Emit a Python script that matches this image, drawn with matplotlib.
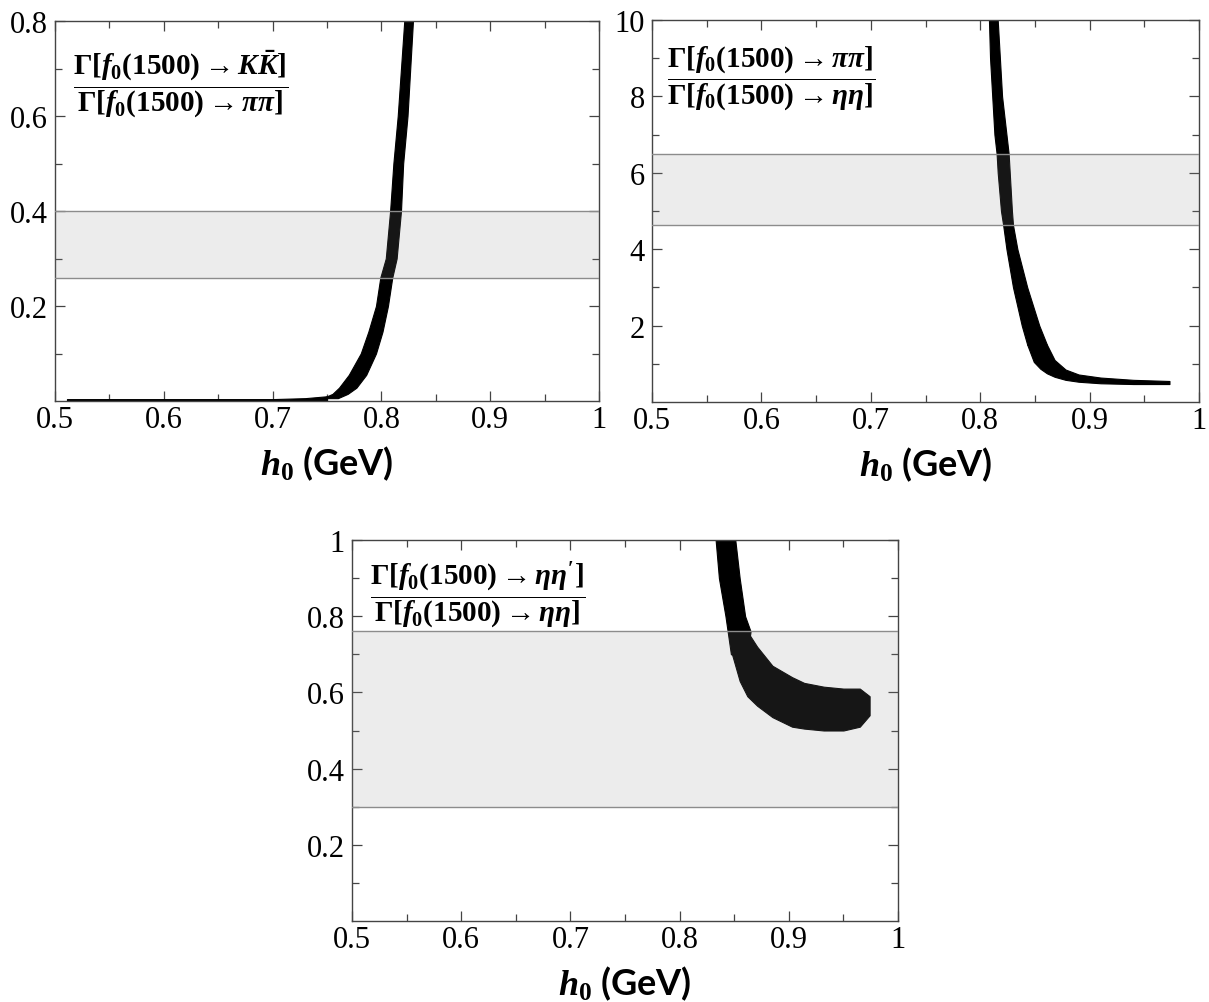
import numpy as np
import matplotlib
matplotlib.use('Agg')
import matplotlib.pyplot as plt

plt.rcParams['font.family'] = 'Liberation Serif'
plt.rcParams['mathtext.fontset'] = 'custom'
plt.rcParams['mathtext.rm'] = 'Liberation Serif:bold'
plt.rcParams['mathtext.it'] = 'Liberation Serif:italic:bold'
plt.rcParams['mathtext.bf'] = 'Liberation Serif:bold'

# x axis (h0 in GeV), shared by all panels
x_ticks = [0.5, 0.6, 0.7, 0.8, 0.9, 1.0]
x_ticklabels = ['0.5', '0.6', '0.7', '0.8', '0.9', '1']

# panel 1: K Kbar / pi pi -- flat tail (x, y_low, y_high) and steep part (y, x_low, x_high)
kk_tail_x = [0.511, 0.700, 0.730, 0.750]
kk_tail_lo = [0.0, 0.0, 0.0, 0.0]
kk_tail_hi = [0.004, 0.004, 0.006, 0.010]
kk_y = [0.006, 0.015, 0.028, 0.055, 0.1, 0.146, 0.2, 0.26, 0.3, 0.4, 0.5, 0.6, 0.8]
kk_xlo = [0.746, 0.755, 0.761, 0.770, 0.781, 0.788, 0.795, 0.799, 0.804, 0.808, 0.811, 0.815, 0.821]
kk_xhi = [0.760, 0.769, 0.777, 0.786, 0.795, 0.801, 0.806, 0.810, 0.814, 0.818, 0.820, 0.824, 0.829]
kk_band = [0.26, 0.40]

# panel 2: pi pi / eta eta -- steep part (y, x_low, x_high) and knee + tail (x, y_low, y_high)
pp_y = [1.5, 2.0, 3.0, 4.0, 4.63, 5.0, 6.0, 6.5, 7.0, 8.0, 9.0, 10.0]
pp_xlo = [0.843, 0.838, 0.830, 0.824, 0.821, 0.819, 0.816, 0.815, 0.813, 0.811, 0.809, 0.808]
pp_xhi = [0.861, 0.854, 0.843, 0.834, 0.830, 0.829, 0.827, 0.826, 0.824, 0.820, 0.818, 0.816]
pp_tail_x = [0.843, 0.849, 0.855, 0.861, 0.868, 0.878, 0.890, 0.910, 0.940, 0.973]
pp_tail_lo = [1.50, 1.05, 0.87, 0.75, 0.66, 0.58, 0.53, 0.49, 0.47, 0.47]
pp_tail_hi = [1.50, 1.60, 1.60, 1.50, 1.10, 0.85, 0.72, 0.64, 0.58, 0.55]
pp_band = [4.63, 6.5]

# panel 3: eta eta' / eta eta -- steep part and flat part
ee_y = [0.70, 0.76, 0.80, 0.90, 1.0]
ee_xlo = [0.847, 0.844, 0.842, 0.836, 0.833]
ee_xhi = [0.862, 0.865, 0.860, 0.855, 0.851]
ee_flat_x = [0.848, 0.855, 0.862, 0.871, 0.885, 0.903, 0.914, 0.932, 0.950, 0.965, 0.974]
ee_flat_lo = [0.70, 0.63, 0.59, 0.565, 0.535, 0.51, 0.505, 0.50, 0.50, 0.51, 0.54]
ee_flat_hi = [0.78, 0.77, 0.76, 0.72, 0.67, 0.64, 0.625, 0.615, 0.61, 0.61, 0.59]
ee_band = [0.30, 0.76]

W, H = 1209, 1003
fig = plt.figure(figsize=(W / 100, H / 100), dpi=100)

def make_axes(left, top, right, bottom):
    return fig.add_axes([left / W, 1 - bottom / H, (right - left) / W, (bottom - top) / H])

def style(ax, ylim, yticks, ylabels, yminor):
    ax.set_xlim(0.5, 1.0)
    ax.set_ylim(*ylim)
    ax.set_xticks(x_ticks)
    ax.set_xticklabels(x_ticklabels)
    ax.set_xticks(np.arange(0.55, 1.0, 0.1), minor=True)
    ax.set_yticks(yticks)
    ax.set_yticklabels(ylabels)
    ax.set_yticks(yminor, minor=True)
    ax.tick_params(which='both', direction='in', top=True, right=True,
                   color='#444444', width=0.9, labelsize=22)
    ax.tick_params(which='major', length=7)
    ax.tick_params(which='minor', length=5)
    ax.tick_params(axis='x', pad=3)
    ax.tick_params(axis='y', pad=5)
    for sp in ax.spines.values():
        sp.set_color('#444444')
        sp.set_linewidth(1.0)
    ax.set_xlabel(r'$h_0$ (GeV)', family='Lato', weight='bold', fontsize=26, labelpad=7)

def band(ax, lo, hi):
    ax.axhspan(lo, hi, facecolor='#8e8e8e', alpha=0.16, lw=0, zorder=3)
    ax.axhline(lo, color='#8c8c8c', lw=1.0, zorder=4)
    ax.axhline(hi, color='#8c8c8c', lw=1.0, zorder=4)

frac_size = 21

# panel 1
ax1 = make_axes(55, 22, 599, 402)
ax1.fill_between(kk_tail_x, kk_tail_lo, kk_tail_hi, color='black', lw=0.8, zorder=2)
ax1.fill_betweenx(kk_y, kk_xlo, kk_xhi, color='black', lw=0.8, zorder=2)
band(ax1, *kk_band)
style(ax1, (0, 0.8), [0.2, 0.4, 0.6, 0.8], ['0.2', '0.4', '0.6', '0.8'], [0.1, 0.3, 0.5, 0.7])
ax1.text(0.033, 0.93, r'$\dfrac{\Gamma[f_0(1500)\rightarrow K\bar{K}]}{\Gamma[f_0(1500)\rightarrow \pi\pi]}$',
         transform=ax1.transAxes, ha='left', va='top', fontsize=frac_size)

# panel 2
ax2 = make_axes(652, 21, 1199, 403)
ax2.fill_betweenx(pp_y, pp_xlo, pp_xhi, color='black', lw=0.8, zorder=2)
ax2.fill_between(pp_tail_x, pp_tail_lo, pp_tail_hi, color='black', lw=0.8, zorder=2)
band(ax2, *pp_band)
style(ax2, (0, 10), [2, 4, 6, 8, 10], ['2', '4', '6', '8', '10'], [1, 3, 5, 7, 9])
ax2.text(0.027, 0.94, r'$\dfrac{\Gamma[f_0(1500)\rightarrow \pi\pi]}{\Gamma[f_0(1500)\rightarrow \eta\eta]}$',
         transform=ax2.transAxes, ha='left', va='top', fontsize=frac_size)

# panel 3
ax3 = make_axes(352, 541, 898, 922)
ax3.fill_betweenx(ee_y, ee_xlo, ee_xhi, color='black', lw=0.8, zorder=2)
ax3.fill_between(ee_flat_x, ee_flat_lo, ee_flat_hi, color='black', lw=0.8, zorder=2)
band(ax3, *ee_band)
style(ax3, (0, 1), [0.2, 0.4, 0.6, 0.8, 1.0], ['0.2', '0.4', '0.6', '0.8', '1'], [0.1, 0.3, 0.5, 0.7, 0.9])
ax3.text(0.033, 0.95, r"$\dfrac{\Gamma[f_0(1500)\rightarrow \eta\eta']}{\Gamma[f_0(1500)\rightarrow \eta\eta]}$",
         transform=ax3.transAxes, ha='left', va='top', fontsize=frac_size)

fig.savefig('out.png', dpi=100)
